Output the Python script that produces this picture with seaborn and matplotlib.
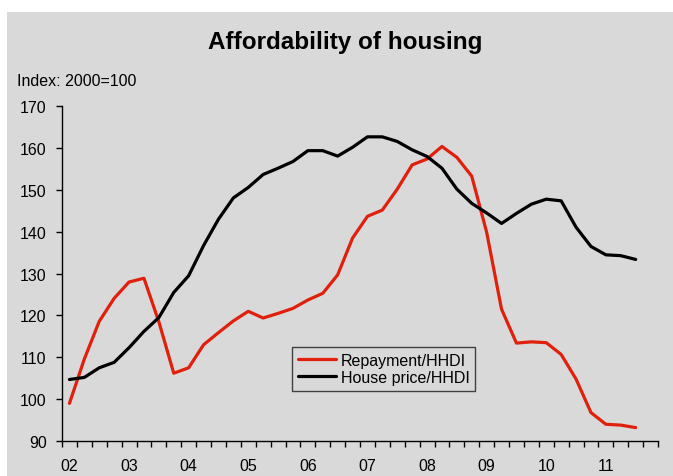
import numpy as np
import pandas as pd
import matplotlib
matplotlib.use("Agg")
import matplotlib.pyplot as plt
from matplotlib.patches import Rectangle
import seaborn as sns

# ---- data (quarterly, 2002Q1 .. 2011Q3) ----
year_labels = ["02", "03", "04", "05", "06", "07", "08", "09", "10", "11"]
repayment = [99.0, 109.6, 118.6, 124.1, 128.0, 128.9, 118.5, 106.2, 107.5, 113.0,
             115.9, 118.7, 121.0, 119.4, 120.5, 121.7, 123.7, 125.3, 129.7, 138.5,
             143.7, 145.2, 150.2, 156.0, 157.4, 160.4, 157.8, 153.3, 139.9, 121.5,
             113.4, 113.7, 113.5, 110.7, 104.8, 96.8, 94.0, 93.8, 93.2]
house_price = [104.7, 105.2, 107.5, 108.8, 112.3, 116.2, 119.5, 125.5, 129.5, 136.7,
               143.0, 148.1, 150.6, 153.7, 155.2, 156.8, 159.4, 159.4, 158.1, 160.2,
               162.7, 162.7, 161.6, 159.6, 158.0, 155.2, 150.2, 146.8, 144.5, 142.0,
               144.4, 146.6, 147.8, 147.4, 141.1, 136.5, 134.5, 134.3, 133.4]
series_names = ["Repayment/HHDI", "House price/HHDI"]
colors = ["#e0200c", "#000000"]

n_cat = 40
q = np.arange(len(repayment))
df = pd.DataFrame({
    "q": np.concatenate([q, q]),
    "value": repayment + house_price,
    "series": [series_names[0]] * len(q) + [series_names[1]] * len(q),
})

sns.set_theme(style="white")
plt.rcParams["font.family"] = ["Liberation Sans", "DejaVu Sans"]
plt.rcParams["text.color"] = "black"
plt.rcParams["xtick.color"] = "black"
plt.rcParams["ytick.color"] = "black"
plt.rcParams["xtick.labelcolor"] = "black"
plt.rcParams["ytick.labelcolor"] = "black"

W, H = 673, 477
fig = plt.figure(figsize=(W / 100, H / 100), dpi=100, facecolor="white")
bg = "#d9d9d9"
fig.patches.append(Rectangle((7 / W, 0), 1 - 7 / W, 1 - 13 / H,
                             transform=fig.transFigure, facecolor=bg,
                             edgecolor="none", zorder=-10))

ax_l, ax_r, ax_t, ax_b = 62, 658, 107.3, 442
ax = fig.add_axes([ax_l / W, 1 - ax_b / H, (ax_r - ax_l) / W, (ax_b - ax_t) / H])
ax.set_facecolor("none")

sns.lineplot(data=df, x="q", y="value", hue="series", palette=colors,
             hue_order=series_names, linewidth=2.3, ax=ax, legend=False)

ax.set_xlim(-0.5, n_cat - 0.5)
ax.set_ylim(90, 170)
ax.set_yticks(np.arange(90, 171, 10))
ax.set_xticks(np.arange(-0.5, n_cat, 1.0))
ax.set_xticklabels([])
ax.set_xticks(np.arange(0, n_cat, 4), minor=True)
ax.set_xticklabels(year_labels, minor=True)
ax.tick_params(axis="x", which="major", bottom=True, length=4.5, width=1,
               color="black", direction="out")
ax.tick_params(axis="x", which="minor", bottom=True, length=0, pad=12,
               labelsize=11.5, labelcolor="black")
ax.tick_params(axis="y", which="major", left=True, length=4.5, width=1,
               color="black", direction="out", pad=6.5, labelsize=11.5,
               labelcolor="black")
for s in ["top", "right"]:
    ax.spines[s].set_visible(False)
for s in ["left", "bottom"]:
    ax.spines[s].set_color("black")
    ax.spines[s].set_linewidth(1)
ax.set_xlabel("")
ax.set_ylabel("")
ax.grid(False)

handles = [plt.Line2D([], [], color=c, lw=2.3) for c in colors]
leg = ax.legend(handles, series_names, loc="upper left",
                bbox_to_anchor=((292 - ax_l) / (ax_r - ax_l), (ax_b - 348) / (ax_b - ax_t)),
                borderaxespad=0, fontsize=11.5, frameon=True, fancybox=False,
                facecolor=bg, edgecolor="#404040", framealpha=1,
                handlelength=2.4, handletextpad=0.3, labelspacing=0.15,
                borderpad=0.35)
leg.get_frame().set_linewidth(1)
for t in leg.get_texts():
    t.set_color("black")

fig.text(345.5 / W, 1 - 42 / H, "Affordability of housing", ha="center", va="center",
         fontsize=17.5, fontweight="bold", color="black")
fig.text(17 / W, 1 - 81 / H, "Index: 2000=100", ha="left", va="center",
         fontsize=11.5, color="black")

fig.savefig("out.png", dpi=100, facecolor="white")
